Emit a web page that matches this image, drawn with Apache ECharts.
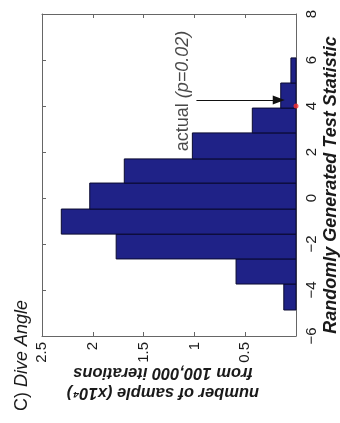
<!DOCTYPE html>
<html>
<head>
<meta charset="utf-8">
<script src="https://cdn.jsdelivr.net/npm/echarts@6/dist/echarts.min.js"></script>
<style>html,body{margin:0;padding:0;background:#fff;}#c{width:340px;height:423px;}</style>
</head>
<body>
<div id="c"></div>
<script>
const binEdges = [-4.87, -3.74, -2.65, -1.57, -0.48, 0.65, 1.70, 2.83, 3.91, 5.00, 6.09];
const counts = [0.12, 0.59, 1.77, 2.31, 2.03, 1.69, 1.02, 0.43, 0.15, 0.05];
const statTicks = [-6, -4, -2, 0, 2, 4, 6, 8];
const countTicks = [0, 0.5, 1, 1.5, 2, 2.5];
const actualValue = 4;
const arrowFrom = [0.98, 4.26];
const arrowTo = [0.17, 4.26];
const notePos = [1.11, 4.65];

const histData = counts.map((c, i) => [binEdges[i], binEdges[i + 1], c]);
const textColor = '#1a1a1a';
const axisColor = '#666';
const FONT = 'Liberation Sans';

const chart = echarts.init(document.getElementById('c'), null, {renderer: 'canvas'});
chart.setOption({
  backgroundColor: '#fff',
  animation: false,
  grid: {left: 42, right: 44, top: 14, bottom: 87, show: false, containLabel: false, outerBoundsMode: 'none'},
  xAxis: [{
    type: 'value', min: 0, max: 2.5, interval: 0.5, inverse: true, position: 'bottom',
    axisLine: {show: true, onZero: false, lineStyle: {color: axisColor}},
    axisTick: {show: true, inside: true, length: 4, lineStyle: {color: axisColor}},
    splitLine: {show: false},
    axisLabel: {rotate: 90, fontSize: 15, color: textColor, fontFamily: FONT, margin: 6,
      formatter: v => (v === 0 ? '' : String(v))},
    name: 'number of sample (x10\u2074)\nfrom 100,000 iterations',
    nameLocation: 'middle', nameRotate: 180, nameGap: 27, nameMoveOverlap: false,
    nameTextStyle: {fontSize: 16.5, fontWeight: 'bold', fontStyle: 'italic', color: textColor, fontFamily: FONT,
      lineHeight: 20, padding: [0, 0, 0, 12]}
  }, {
    type: 'value', min: 0, max: 2.5, interval: 0.5, inverse: true, position: 'top',
    axisLine: {show: true, onZero: false, lineStyle: {color: axisColor}},
    axisTick: {show: true, inside: true, length: 4, lineStyle: {color: axisColor}},
    splitLine: {show: false}, axisLabel: {show: false}
  }],
  yAxis: [{
    type: 'value', min: -6, max: 8, interval: 2, position: 'right',
    axisLine: {show: true, onZero: false, lineStyle: {color: axisColor}},
    axisTick: {show: true, inside: true, length: 4, lineStyle: {color: axisColor}},
    splitLine: {show: false},
    axisLabel: {rotate: 90, fontSize: 15, color: textColor, fontFamily: FONT, margin: 8,
      formatter: v => String(v).replace('-', '\u2212')},
    name: 'Randomly Generated Test Statistic',
    nameLocation: 'middle', nameRotate: 90, nameGap: 26, nameMoveOverlap: false,
    nameTextStyle: {fontSize: 18, fontWeight: 'bold', fontStyle: 'italic', color: textColor, fontFamily: FONT,
      padding: [0, 20, 0, 0]}
  }, {
    type: 'value', min: -6, max: 8, interval: 2, position: 'left',
    axisLine: {show: true, onZero: false, lineStyle: {color: axisColor}},
    axisTick: {show: true, inside: true, length: 4, lineStyle: {color: axisColor}},
    splitLine: {show: false}, axisLabel: {show: false}
  }],
  graphic: [{
    type: 'text', x: 22, y: 411, rotation: Math.PI / 2,
    style: {
      text: '{a|C) }{b|Dive Angle}', textAlign: 'left', textVerticalAlign: 'middle',
      rich: {
        a: {fontSize: 18, fill: textColor, fontFamily: FONT},
        b: {fontSize: 18, fill: textColor, fontFamily: FONT, fontStyle: 'italic'}
      }
    }
  }],
  series: [{
    type: 'custom',
    xAxisIndex: 0, yAxisIndex: 0,
    data: histData,
    encode: {x: 2, y: [0, 1]},
    renderItem: function (params, api) {
      const lo = api.value(0), hi = api.value(1), c = api.value(2);
      const a = api.coord([c, hi]);
      const b = api.coord([0, lo]);
      return {
        type: 'rect',
        shape: {x: Math.min(a[0], b[0]), y: Math.min(a[1], b[1]), width: Math.abs(b[0] - a[0]), height: Math.abs(b[1] - a[1])},
        style: {fill: '#1f2287', stroke: '#0a0a30', lineWidth: 1}
      };
    }
  }, {
    type: 'scatter',
    xAxisIndex: 0, yAxisIndex: 0,
    data: [[0, actualValue]],
    symbol: 'circle', symbolSize: 5,
    itemStyle: {color: '#ff3030'},
    z: 5,
    markLine: {
      silent: true,
      symbol: ['none', 'triangle'],
      symbolSize: [9, 12],
      label: {show: false},
      lineStyle: {color: '#111', width: 1, type: 'solid'},
      data: [[{coord: arrowFrom}, {coord: arrowTo}]]
    }
  }, {
    type: 'scatter',
    xAxisIndex: 0, yAxisIndex: 0,
    data: [notePos],
    symbolSize: 0,
    label: {
      show: true, position: 'inside', rotate: 90,
      formatter: '{a|actual }{b|(p=0.02)}',
      rich: {
        a: {fontSize: 18, color: textColor, fontFamily: FONT},
        b: {fontSize: 18, color: textColor, fontFamily: FONT, fontStyle: 'italic'}
      }
    }
  }]
});
</script>
</body>
</html>
